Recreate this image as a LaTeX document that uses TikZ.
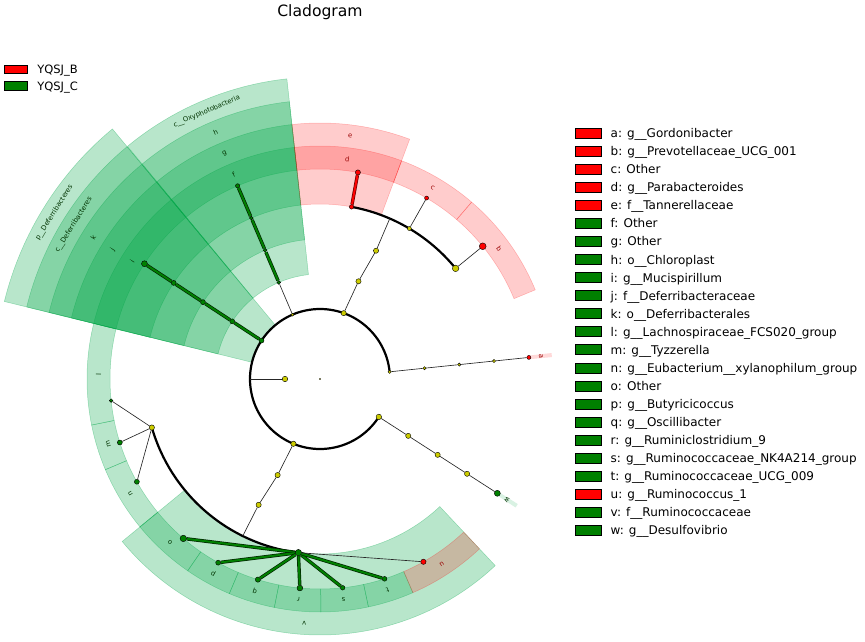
\documentclass[tikz,border=0pt]{standalone}
\usepackage{fontspec}
\setmainfont{DejaVu Sans}
\usetikzlibrary{positioning}
\definecolor{gruen}{RGB}{0,128,0}
\definecolor{rot}{RGB}{255,0,0}
\definecolor{gelb}{RGB}{204,204,0}
\definecolor{gruenhell}{RGB}{0,165,70}
\pgfdeclarelayer{sektor}
\pgfdeclarelayer{linie}
\pgfsetlayers{sektor,linie,main}
% Sektor: Stil, von, bis, r innen, r aussen
\newcommand{\sektor}[5]{\filldraw[#1](#2:#4) arc[start angle=#2,end angle=#3,radius=#4pt] -- (#3:#5) arc[start angle=#3,end angle=#2,radius=#5pt] -- cycle;}
% Beschriftung im Ring: Name, Winkel, Radius, Text, Farbe
\newcommand{\etikett}[5]{\node[lbl,text=#5,rotate=#2-90]at(#2:#3)(#1){#4};}
\begin{document}
\begin{tikzpicture}[x=1pt,y=1pt,
  knoten/.style={circle,draw=black,line width=0.4pt,inner sep=0pt},
  kgelb/.style={knoten,fill=gelb},
  kgruen/.style={knoten,fill=gruen},
  krot/.style={knoten,fill=rot},
  ast/.style={draw=black!85,line width=0.65pt},
  bogen/.style={draw=black,line width=2.2pt},
  astgruen/.style={draw=black!70!gruen,line width=3.4pt,postaction={draw=gruen,line width=2pt}},
  astrot/.style={draw=black!60!rot,line width=3.4pt,postaction={draw=rot,line width=2pt}},
  sgruen/.style={fill=gruenhell,draw=gruenhell,fill opacity=0.28,draw opacity=0.35,line width=0.5pt},
  srot/.style={fill=rot,draw=rot,fill opacity=0.2,draw opacity=0.25,line width=0.5pt},
  sfein/.style={fill opacity=0.15,draw=none},
  lbl/.style={inner sep=0pt,font=\fontsize{6.8}{7}\selectfont},
  lbox/.style={draw=black,line width=0.9pt,inner sep=0pt,minimum width=26pt,minimum height=10pt},
  ltext/.style={inner sep=0pt,anchor=west,font=\fontsize{12}{14}\selectfont,text height=8.75pt,text depth=0pt},
  ltextk/.style={inner sep=0pt,anchor=west,font=\fontsize{11.5}{13}\selectfont,text height=8.4pt,text depth=0pt}]
\useasboundingbox(-320,-262) rectangle (545,379);
% Titel
\node[font=\fontsize{15.6}{18}\selectfont,anchor=base,inner sep=0pt]at(0,362.3)(titel){Cladogram};

% Knoten
\node[kgelb,minimum size=1.2pt]at(0,0)(wurzel){};
\node[kgelb,minimum size=5.5pt]at(180:35)(koenig){};
\coordinate(ar_root)at(180:70);
% Stamm
\node[kgelb,minimum size=3.2pt]at(5.9:70)(ph_act){};
\node[kgelb,minimum size=5.2pt]at(70.2:70)(ph_bac){};
\node[kgelb,minimum size=3pt]at(113.1:70)(ph_cya){};
\node[kgruen,minimum size=5pt]at(146.7:70)(ph_def){};
\node[kgelb,minimum size=5.3pt]at(247.7:70)(ph_fir){};
\node[kgelb,minimum size=5.5pt]at(327.2:70)(ph_pro){};
% Klasse
\node[kgelb,minimum size=3.2pt]at(5.9:105)(kl_act){};
\node[kgelb,minimum size=5.2pt]at(68.5:105)(kl_bac){};
\node[kgruen,minimum size=3.8pt]at(113.1:105)(kl_cya){};
\node[kgruen,minimum size=5pt]at(146.7:105)(kl_def){};
\node[kgelb,minimum size=5.3pt]at(246.2:105)(kl_fir){};
\node[kgelb,minimum size=5.2pt]at(327.2:105)(kl_pro){};
% Ordnung
\node[kgelb,minimum size=3.2pt]at(5.9:140)(or_act){};
\node[kgelb,minimum size=5.2pt]at(66.4:140)(or_bac){};
\node[kgruen,minimum size=3.8pt]at(113.1:140)(or_cya){};
\node[kgruen,minimum size=5pt]at(146.7:140)(or_def){};
\node[kgelb,minimum size=5.3pt]at(244:140)(or_fir){};
\node[kgelb,minimum size=5.2pt]at(327.2:140)(or_pro){};
\coordinate(ar_bac)at(66.5:175);
\coordinate(ar_fir)at(243.8:175);
% Familie
\node[kgelb,minimum size=3.2pt]at(5.9:175)(fa_act){};
\node[krot,minimum size=4.5pt]at(79.6:175)(fa_e){};
\node[kgelb,minimum size=4pt]at(59.3:175)(fa_c){};
\node[kgelb,minimum size=6.5pt]at(39.2:175)(fa_b){};
\node[kgruen,minimum size=3.8pt]at(113.1:175)(fa_cya){};
\node[kgruen,minimum size=5pt]at(146.7:175)(fa_def){};
\node[kgelb,minimum size=5.3pt]at(196.1:175)(fa_lach){};
\node[kgruen,minimum size=6.5pt]at(262.9:175)(fa_v){};
\node[kgelb,minimum size=5.2pt]at(327.2:175)(fa_pro){};
% Gattung
\node[krot,minimum size=4pt]at(5.9:210)(ge_a){};
\node[krot,minimum size=5.2pt]at(79.6:210)(ge_d){};
\node[krot,minimum size=4pt]at(59.5:210)(ge_c){};
\node[krot,minimum size=6.8pt]at(39.2:210)(ge_b){};
\node[kgruen,minimum size=4.3pt]at(113.1:210)(ge_f){};
\node[kgruen,minimum size=6pt]at(146.7:210)(ge_i){};
\node[kgruen,minimum size=3.6pt]at(185.9:210)(ge_l){};
\node[kgruen,minimum size=5pt]at(197.6:210)(ge_m){};
\node[kgruen,minimum size=5pt]at(209.3:210)(ge_n){};
\node[kgruen,minimum size=6.5pt]at(229.4:210)(ge_o){};
\node[kgruen,minimum size=5pt]at(241:210)(ge_p){};
\node[kgruen,minimum size=5.3pt]at(252.8:210)(ge_q){};
\node[kgruen,minimum size=5.8pt]at(264.5:210)(ge_r){};
\node[kgruen,minimum size=4.6pt]at(276.2:210)(ge_s){};
\node[kgruen,minimum size=4.8pt]at(287.9:210)(ge_t){};
\node[krot,minimum size=5.3pt]at(299.5:210)(ge_u){};
\node[kgruen,minimum size=6pt]at(327.2:211)(ge_w){};

% Aeste
\begin{pgfonlayer}{linie}
\draw[bogen](ph_act.center) arc[start angle=5.9,end angle=327.2,radius=70pt];
\draw[bogen](fa_b.center) arc[start angle=39.2,end angle=79.6,radius=175pt];
\draw[bogen](fa_lach.center) arc[start angle=196.1,end angle=262.9,radius=175pt];
\draw[ast](koenig)--(ar_root);
\draw[ast](ph_act)--(kl_act)--(or_act)--(fa_act)--(ge_a);
\draw[ast](ph_bac)--(kl_bac)--(or_bac)--(ar_bac);
\draw[ast](fa_c)--(ge_c);
\draw[ast](fa_b)--(ge_b);
\draw[astrot](fa_e)--(ge_d);
\draw[ast](ph_cya)--(kl_cya);
\draw[astgruen](kl_cya)--(or_cya)--(fa_cya)--(ge_f);
\draw[astgruen](ph_def)--(kl_def)--(or_def)--(fa_def)--(ge_i);
\draw[ast](ph_fir)--(kl_fir)--(or_fir)--(ar_fir);
\draw[ast](fa_lach)--(ge_l);
\draw[ast](fa_lach)--(ge_m);
\draw[ast](fa_lach)--(ge_n);
\draw[astgruen](fa_v)--(ge_o);
\draw[astgruen](fa_v)--(ge_p);
\draw[astgruen](fa_v)--(ge_q);
\draw[astgruen](fa_v)--(ge_r);
\draw[astgruen](fa_v)--(ge_s);
\draw[astgruen](fa_v)--(ge_t);
\draw[ast](fa_v)--(ge_u);
\draw[ast](ph_pro)--(kl_pro)--(or_pro)--(fa_pro)--(ge_w);
\end{pgfonlayer}

% Sektoren
\begin{pgfonlayer}{sektor}
% Deferribacteres
\sektor{sgruen}{129.7}{166.2}{70}{325}
\sektor{sgruen}{129.7}{166.2}{105}{302}
\sektor{sgruen}{129.7}{166.2}{140}{279}
\sektor{sgruen}{129.7}{166.2}{175}{256}
\sektor{sgruen}{129.7}{166.2}{210}{233}
% Oxyphotobacteria
\sektor{sgruen}{96.3}{129.6}{105}{302}
\sektor{sgruen}{96.3}{129.6}{140}{279}
\sektor{sgruen}{96.3}{129.6}{175}{256}
\sektor{sgruen}{96.3}{129.6}{210}{233}
% Firmicutes
\sektor{sgruen}{166.2}{191.4}{210}{233}
\sektor{sgruen}{191.4}{202.9}{210}{233}
\sektor{sgruen}{202.9}{219.4}{210}{233}
\sektor{sgruen}{219.4}{313.2}{175}{256}
\sektor{sgruen}{219.4}{235.4}{210}{233}
\sektor{sgruen}{235.4}{247.1}{210}{233}
\sektor{sgruen}{247.1}{258.7}{210}{233}
\sektor{sgruen}{258.7}{270.2}{210}{233}
\sektor{sgruen}{270.2}{282}{210}{233}
\sektor{sgruen}{282}{293.5}{210}{233}
\sektor{srot}{293.5}{313.2}{210}{233}
% Proteobacteria
\sektor{sgruen,sfein}{326.7}{327.7}{211}{234}
% Bacteroidetes
\sektor{srot}{69.5}{96.3}{175}{256}
\sektor{srot}{69.5}{96.3}{210}{233}
\sektor{srot}{49.4}{69.5}{210}{233}
\sektor{srot}{22.5}{49.4}{210}{233}
% Actinobacteria
\sektor{srot,sfein}{5.4}{6.4}{210}{233}
\end{pgfonlayer}

% Beschriftung der Ringe
\etikett{lb_a}{5.9}{222}{a}{rot!60!black}
\etikett{lb_b}{35.95}{221.5}{b}{rot!60!black}
\etikett{lb_c}{59.45}{221.5}{c}{rot!60!black}
\etikett{lb_d}{82.9}{221.5}{d}{rot!60!black}
\etikett{lb_e}{82.9}{244.5}{e}{rot!60!black}
\etikett{lb_f}{112.95}{221.5}{f}{gruen!40!black}
\etikett{lb_g}{112.95}{244.5}{g}{gruen!40!black}
\etikett{lb_h}{112.95}{267.5}{h}{gruen!40!black}
\etikett{lb_oxy}{112.95}{290.5}{c\_\_Oxyphotobacteria}{gruen!40!black}
\etikett{lb_i}{147.95}{221.5}{i}{gruen!40!black}
\etikett{lb_j}{147.95}{244.5}{j}{gruen!40!black}
\etikett{lb_k}{147.95}{267.5}{k}{gruen!40!black}
\etikett{lb_cdef}{147.95}{290.5}{c\_\_Deferribacteres}{gruen!40!black}
\etikett{lb_pdef}{147.95}{313.5}{p\_\_Deferribacteres}{gruen!40!black}
\etikett{lb_l}{178.8}{221.5}{l}{gruen!40!black}
\etikett{lb_m}{197.15}{221.5}{m}{gruen!40!black}
\etikett{lb_n}{211.15}{221.5}{n}{gruen!40!black}
\etikett{lb_o}{227.4}{221.5}{o}{gruen!40!black}
\etikett{lb_p}{241.25}{221.5}{p}{gruen!40!black}
\etikett{lb_q}{252.9}{221.5}{q}{gruen!40!black}
\etikett{lb_r}{264.45}{221.5}{r}{gruen!40!black}
\etikett{lb_s}{276.1}{221.5}{s}{gruen!40!black}
\etikett{lb_t}{287.75}{221.5}{t}{gruen!40!black}
\etikett{lb_u}{303.35}{221.5}{u}{rot!60!black}
\etikett{lb_v}{266.3}{244.5}{v}{gruen!40!black}
\etikett{lb_w}{327.2}{222.5}{w}{gruen!40!black}

% Legende links
\node[lbox,fill=rot,minimum width=22.7pt,minimum height=8.3pt]at(-303.7,309.8)(leg_b){};
\node[ltextk,right=9pt of leg_b](txt_b){YQSJ\_B};
\node[lbox,fill=gruen,minimum width=22.7pt,minimum height=8.3pt]at(-303.7,293)(leg_c){};
\node[ltextk,right=9pt of leg_c](txt_c){YQSJ\_C};

% Legende rechts
\node[lbox,fill=rot]at(268,245.7)(lg_a){};
\node[ltext,right=9pt of lg_a](lt_a){a: g\_\_Gordonibacter};
\node[lbox,fill=rot]at(268,227.65)(lg_b){};
\node[ltext,right=9pt of lg_b](lt_b){b: g\_\_Prevotellaceae\_UCG\_001};
\node[lbox,fill=rot]at(268,209.6)(lg_c){};
\node[ltext,right=9pt of lg_c](lt_c){c: Other};
\node[lbox,fill=rot]at(268,191.55)(lg_d){};
\node[ltext,right=9pt of lg_d](lt_d){d: g\_\_Parabacteroides};
\node[lbox,fill=rot]at(268,173.5)(lg_e){};
\node[ltext,right=9pt of lg_e](lt_e){e: f\_\_Tannerellaceae};
\node[lbox,fill=gruen]at(268,155.45)(lg_f){};
\node[ltext,right=9pt of lg_f](lt_f){f: Other};
\node[lbox,fill=gruen]at(268,137.4)(lg_g){};
\node[ltext,right=9pt of lg_g](lt_g){g: Other};
\node[lbox,fill=gruen]at(268,119.35)(lg_h){};
\node[ltext,right=9pt of lg_h](lt_h){h: o\_\_Chloroplast};
\node[lbox,fill=gruen]at(268,101.3)(lg_i){};
\node[ltext,right=9pt of lg_i](lt_i){i: g\_\_Mucispirillum};
\node[lbox,fill=gruen]at(268,83.25)(lg_j){};
\node[ltext,right=9pt of lg_j](lt_j){j: f\_\_Deferribacteraceae};
\node[lbox,fill=gruen]at(268,65.2)(lg_k){};
\node[ltext,right=9pt of lg_k](lt_k){k: o\_\_Deferribacterales};
\node[lbox,fill=gruen]at(268,47.15)(lg_l){};
\node[ltext,right=9pt of lg_l](lt_l){l: g\_\_Lachnospiraceae\_FCS020\_group};
\node[lbox,fill=gruen]at(268,29.1)(lg_m){};
\node[ltext,right=9pt of lg_m](lt_m){m: g\_\_Tyzzerella};
\node[lbox,fill=gruen]at(268,11.05)(lg_n){};
\node[ltext,right=9pt of lg_n](lt_n){n: g\_\_Eubacterium\_\_xylanophilum\_group};
\node[lbox,fill=gruen]at(268,-7)(lg_o){};
\node[ltext,right=9pt of lg_o](lt_o){o: Other};
\node[lbox,fill=gruen]at(268,-25.05)(lg_p){};
\node[ltext,right=9pt of lg_p](lt_p){p: g\_\_Butyricicoccus};
\node[lbox,fill=gruen]at(268,-43.1)(lg_q){};
\node[ltext,right=9pt of lg_q](lt_q){q: g\_\_Oscillibacter};
\node[lbox,fill=gruen]at(268,-61.15)(lg_r){};
\node[ltext,right=9pt of lg_r](lt_r){r: g\_\_Ruminiclostridium\_9};
\node[lbox,fill=gruen]at(268,-79.2)(lg_s){};
\node[ltext,right=9pt of lg_s](lt_s){s: g\_\_Ruminococcaceae\_NK4A214\_group};
\node[lbox,fill=gruen]at(268,-97.25)(lg_t){};
\node[ltext,right=9pt of lg_t](lt_t){t: g\_\_Ruminococcaceae\_UCG\_009};
\node[lbox,fill=rot]at(268,-115.3)(lg_u){};
\node[ltext,right=9pt of lg_u](lt_u){u: g\_\_Ruminococcus\_1};
\node[lbox,fill=gruen]at(268,-133.35)(lg_v){};
\node[ltext,right=9pt of lg_v](lt_v){v: f\_\_Ruminococcaceae};
\node[lbox,fill=gruen]at(268,-151.4)(lg_w){};
\node[ltext,right=9pt of lg_w](lt_w){w: g\_\_Desulfovibrio};
\end{tikzpicture}
\end{document}
